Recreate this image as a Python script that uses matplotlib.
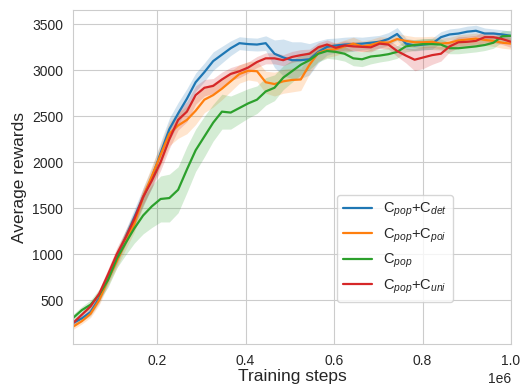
import numpy as np
import matplotlib
matplotlib.use('Agg')
import matplotlib.pyplot as plt
import seaborn as sns

# training steps (51 evaluation points)
steps = np.linspace(1e4, 1e6, 51)

det_mean = [250, 300, 370, 520, 740, 950, 1180, 1400, 1620, 1830,
            2100, 2360, 2530, 2690, 2870, 2980, 3100, 3170, 3240, 3295,
            3285, 3280, 3295, 3180, 3140, 3110, 3110, 3120, 3200, 3255,
            3270, 3280, 3285, 3290, 3300, 3310, 3340, 3395, 3290, 3270,
            3280, 3290, 3360, 3390, 3400, 3420, 3430, 3400, 3400, 3390, 3375]
poi_mean = [210, 270, 350, 500, 720, 920, 1130, 1330, 1620, 1850,
            2080, 2310, 2400, 2460, 2560, 2680, 2730, 2800, 2880, 2960,
            2995, 2990, 2870, 2850, 2880, 2895, 2900, 3060, 3190, 3220,
            3230, 3260, 3290, 3260, 3275, 3305, 3300, 3340, 3320, 3305,
            3305, 3310, 3290, 3300, 3325, 3335, 3345, 3330, 3320, 3300, 3290]
pop_mean = [305, 390, 450, 560, 720, 950, 1120, 1280, 1420, 1520,
            1600, 1610, 1700, 1920, 2130, 2280, 2430, 2550, 2540, 2590,
            2640, 2680, 2770, 2810, 2920, 2990, 3060, 3110, 3180, 3210,
            3200, 3180, 3130, 3120, 3150, 3160, 3175, 3200, 3260, 3275,
            3285, 3285, 3280, 3240, 3240, 3250, 3260, 3275, 3300, 3370, 3375]
uni_mean = [250, 340, 430, 570, 780, 1000, 1180, 1380, 1620, 1800,
            2000, 2250, 2460, 2550, 2730, 2810, 2830, 2900, 2960, 2990,
            3030, 3090, 3130, 3130, 3110, 3145, 3165, 3180, 3250, 3280,
            3245, 3270, 3260, 3255, 3250, 3290, 3280, 3210, 3160, 3115,
            3140, 3165, 3180, 3260, 3305, 3310, 3320, 3360, 3360, 3340, 3310]

det_std = [30, 30, 40, 50, 60, 70, 80, 90, 100, 110,
           120, 120, 120, 110, 100, 100, 100, 90, 80, 70,
           70, 70, 80, 150, 200, 200, 200, 170, 120, 90,
           80, 80, 80, 70, 70, 70, 70, 70, 60, 60,
           60, 60, 60, 60, 60, 60, 60, 60, 50, 50, 50]
poi_std = [30, 30, 40, 50, 60, 70, 80, 90, 100, 110,
           120, 130, 140, 150, 150, 140, 130, 120, 110, 100,
           100, 110, 120, 130, 130, 130, 120, 100, 90, 80,
           70, 70, 70, 60, 60, 60, 60, 60, 60, 60,
           60, 60, 60, 60, 60, 60, 60, 60, 60, 60, 60]
pop_std = [40, 40, 50, 60, 80, 100, 130, 160, 200, 230,
           250, 260, 250, 250, 230, 220, 200, 190, 180, 170,
           160, 150, 150, 140, 130, 120, 110, 100, 90, 80,
           80, 80, 80, 80, 80, 70, 70, 70, 60, 60,
           60, 60, 60, 60, 60, 60, 60, 60, 60, 60, 60]
uni_std = [30, 30, 40, 50, 60, 70, 80, 80, 80, 80,
           90, 100, 110, 110, 100, 90, 80, 80, 70, 70,
           60, 60, 60, 60, 60, 60, 60, 50, 50, 50,
           50, 50, 50, 50, 50, 50, 50, 60, 80, 120,
           120, 100, 80, 60, 60, 60, 60, 60, 60, 60, 60]

labels = ['C$_{pop}$+C$_{det}$', 'C$_{pop}$+C$_{poi}$',
          'C$_{pop}$', 'C$_{pop}$+C$_{uni}$']

sns.set_style('whitegrid')
plt.rcParams['font.family'] = ['Liberation Sans', 'DejaVu Sans']
plt.rcParams['mathtext.fontset'] = 'custom'
plt.rcParams['mathtext.rm'] = 'Liberation Sans'
plt.rcParams['mathtext.it'] = 'Liberation Sans:italic'

fig = plt.figure(figsize=(5.31, 3.88), dpi=100)
ax = fig.add_axes([0.1375, 0.1134, 0.8248, 0.8606])

colors = sns.color_palette()
series = [(det_mean, det_std), (poi_mean, poi_std),
          (pop_mean, pop_std), (uni_mean, uni_std)]
for (m, s), lab, c in zip(series, labels, colors):
    m = np.array(m, dtype=float)
    s = np.array(s, dtype=float)
    ax.fill_between(steps, m - s, m + s, color=c, alpha=0.2, lw=0)
    ax.plot(steps, m, color=c, lw=1.6, label=lab)

ax.set_xlim(1e4, 1e6)
ax.set_ylim(22, 3655)
ax.set_yticks([500, 1000, 1500, 2000, 2500, 3000, 3500])
ax.tick_params(labelsize=10)
ax.xaxis.get_offset_text().set_fontsize(10)
ax.set_xlabel('Training steps', fontsize=12.5, labelpad=1)
ax.set_ylabel('Average rewards', fontsize=12.5)
ax.legend(loc='lower right', bbox_to_anchor=(0.885, 0.105), fontsize=10.5,
          frameon=True)

fig.savefig('out.png', dpi=100)
